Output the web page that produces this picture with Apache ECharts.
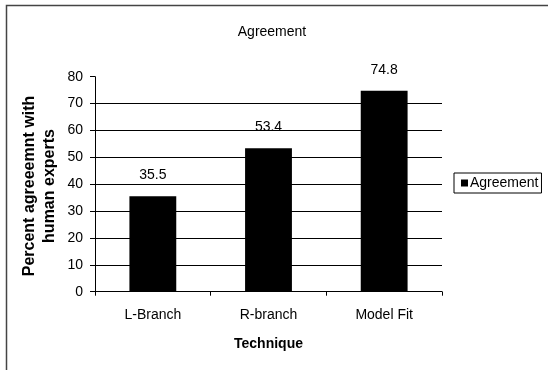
<!DOCTYPE html>
<html>
<head>
<meta charset="utf-8">
<script src="https://cdn.jsdelivr.net/npm/echarts@6/dist/echarts.min.js"></script>
<style>
  html, body { margin: 0; padding: 0; background: #fff; }
  #chart { width: 548px; height: 370px; }
</style>
</head>
<body>
<div id="chart"></div>
<script>
// Agreement of each technique with human experts (percent)
const categories = ['L-Branch', 'R-branch', 'Model Fit'];
const agreement = [35.5, 53.4, 74.8];
const yTicks = [0, 10, 20, 30, 40, 50, 60, 70, 80];

const FONT = '"Liberation Sans", Arial, sans-serif';

const chart = echarts.init(document.getElementById('chart'), null, { renderer: 'canvas' });

chart.setOption({
  animation: false,
  backgroundColor: '#fff',
  textStyle: { fontFamily: FONT },
  title: {
    text: 'Agreement',
    left: 267,
    textAlign: 'center',
    top: 20,
    textStyle: { fontFamily: FONT, fontSize: 14, fontWeight: 'normal', color: '#000' }
  },
  graphic: [
    {
      type: 'rect',
      shape: { x: 6.5, y: 5.5, width: 600, height: 400 },
      style: { fill: 'none', stroke: '#444', lineWidth: 1.5 },
      silent: true
    },
    {
      type: 'text',
      rotation: Math.PI / 2,
      x: 40,
      y: 186,
      style: {
        text: 'Percent agreeemnt with\nhuman experts',
        font: 'bold 16px ' + FONT,
        fill: '#000',
        textAlign: 'center',
        textVerticalAlign: 'middle',
        lineHeight: 20
      },
      silent: true
    }
  ],
  legend: {
    left: 454,
    top: 173,
    orient: 'vertical',
    itemWidth: 7,
    itemHeight: 7,
    itemGap: 4,
    padding: [3, 3, 3, 7],
    borderColor: '#000',
    borderWidth: 1,
    icon: 'rect',
    textStyle: { fontFamily: FONT, fontSize: 14, color: '#000', padding: [0, 0, 0, -3] },
    data: ['Agreement']
  },
  grid: { left: 95, right: 106, top: 76.7, bottom: 78.3, containLabel: false },
  xAxis: {
    type: 'category',
    data: categories,
    name: 'Technique',
    nameLocation: 'middle',
    nameGap: 45,
    nameTextStyle: { fontFamily: FONT, fontSize: 14, fontWeight: 'bold', color: '#000' },
    axisLine: { lineStyle: { color: '#000', width: 1 } },
    axisTick: { show: true, alignWithLabel: false, length: 4, lineStyle: { color: '#000' } },
    axisLabel: { fontFamily: FONT, fontSize: 14, color: '#000', margin: 16 }
  },
  yAxis: {
    type: 'value',
    min: yTicks[0],
    max: yTicks[yTicks.length - 1],
    interval: 10,
    axisLine: { show: true, lineStyle: { color: '#000', width: 1 } },
    axisTick: { show: true, length: 5, lineStyle: { color: '#000' } },
    axisLabel: { fontFamily: FONT, fontSize: 14, color: '#000', margin: 12 },
    splitLine: {
      show: true,
      lineStyle: { color: '#000', width: 1 },
      showMaxLine: false
    }
  },
  series: [{
    name: 'Agreement',
    type: 'bar',
    data: agreement,
    barWidth: '40.5%',
    itemStyle: { color: '#000' },
    label: {
      show: true,
      position: 'top',
      distance: 14,
      fontFamily: FONT,
      fontSize: 14,
      color: '#000'
    }
  }]
});
</script>
</body>
</html>
